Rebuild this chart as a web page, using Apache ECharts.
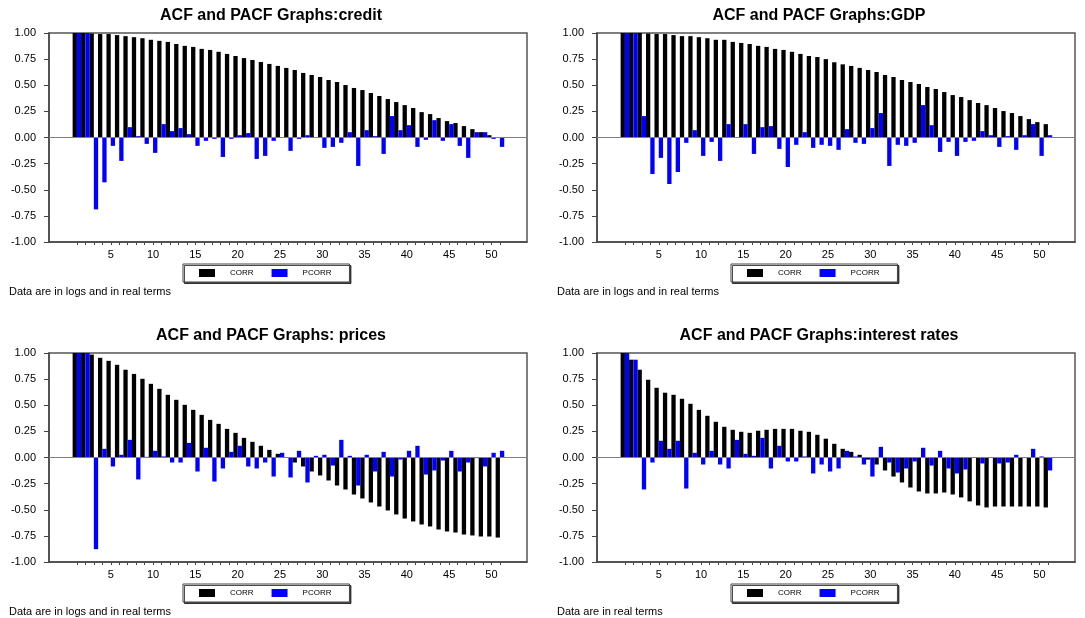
<!DOCTYPE html>
<html>
<head>
<meta charset="utf-8">
<script src="https://cdn.jsdelivr.net/npm/echarts@6/dist/echarts.min.js"></script>
<style>
  html, body { margin: 0; padding: 0; background: #fff; }
  #main { width: 1085px; height: 618px; }
</style>
</head>
<body>
<div id="main"></div>
<script>
// lags 1..51
const lags = [];
for (let i = 1; i <= 51; i++) lags.push(i);
const labelLags = [5, 10, 15, 20, 25, 30, 35, 40, 45, 50];

const creditCorr = [1.0, 1.0, 0.995, 0.99, 0.99, 0.98, 0.97, 0.96, 0.95, 0.935,
    0.925, 0.915, 0.895, 0.877, 0.867, 0.848, 0.838, 0.82, 0.80, 0.78,
    0.76, 0.742, 0.723, 0.704, 0.685, 0.666, 0.646, 0.618, 0.598, 0.579,
    0.55, 0.531, 0.502, 0.474, 0.454, 0.426, 0.397, 0.368, 0.339, 0.31,
    0.282, 0.243, 0.224, 0.186, 0.157, 0.138, 0.109, 0.08, 0.051, 0.022,
    -0.003];
const creditPcorr = [1.0, 1.0, -0.688, -0.429, -0.08, -0.224, 0.099, 0.013, -0.061, -0.147,
    0.128, 0.061, 0.09, 0.032, -0.08, -0.032, -0.013, -0.186, -0.013, 0.022,
    0.042, -0.205, -0.176, -0.032, -0.005, -0.128, -0.013, 0.022, 0.005, -0.099,
    -0.09, -0.051, 0.051, -0.272, 0.07, 0.013, -0.157, 0.205, 0.07, 0.118,
    -0.09, -0.022, 0.166, -0.032, 0.128, -0.08, -0.195, 0.051, 0.051, -0.013,
    -0.09];

const gdpCorr = [1.0, 1.0, 1.0, 0.995, 0.99, 0.99, 0.98, 0.97, 0.97, 0.96,
    0.95, 0.935, 0.935, 0.915, 0.905, 0.895, 0.877, 0.867, 0.848, 0.838,
    0.82, 0.80, 0.78, 0.77, 0.75, 0.72, 0.70, 0.685, 0.666, 0.646,
    0.627, 0.598, 0.579, 0.55, 0.531, 0.512, 0.483, 0.464, 0.435, 0.406,
    0.387, 0.358, 0.33, 0.31, 0.282, 0.253, 0.234, 0.205, 0.176, 0.147,
    0.128];
const gdpPcorr = [1.0, 1.0, 0.205, -0.349, -0.195, -0.445, -0.33, -0.051, 0.07, -0.176,
    -0.042, -0.224, 0.128, 0.005, 0.128, -0.157, 0.099, 0.109, -0.109, -0.282,
    -0.07, 0.051, -0.099, -0.07, -0.08, -0.118, 0.08, -0.051, -0.061, 0.09,
    0.234, -0.272, -0.07, -0.08, -0.051, 0.31, 0.118, -0.138, -0.042, -0.176,
    -0.042, -0.032, 0.061, 0.022, -0.09, 0.013, -0.118, 0.022, 0.128, -0.176,
    0.022];

const pricesCorr = [1.0, 1.0, 0.985, 0.954, 0.925, 0.887, 0.84, 0.80, 0.753, 0.705,
    0.657, 0.60, 0.552, 0.504, 0.456, 0.408, 0.36, 0.322, 0.274, 0.236,
    0.188, 0.15, 0.112, 0.073, 0.035, -0.005, -0.048, -0.086, -0.134, -0.172,
    -0.22, -0.268, -0.306, -0.354, -0.392, -0.43, -0.469, -0.507, -0.545, -0.584,
    -0.612, -0.641, -0.66, -0.689, -0.708, -0.718, -0.737, -0.746, -0.756, -0.756,
    -0.766];
const pricesPcorr = [1.0, 1.0, -0.877, 0.083, -0.086, 0.026, 0.169, -0.21, 0.006, 0.064,
    0.01, -0.048, -0.048, 0.14, -0.134, 0.093, -0.23, -0.105, 0.054, 0.112,
    -0.086, -0.105, -0.048, -0.182, 0.045, -0.191, 0.064, -0.239, 0.016, 0.026,
    -0.077, 0.169, 0.016, -0.268, 0.026, -0.134, 0.054, -0.182, -0.019, 0.064,
    0.112, -0.163, -0.124, -0.029, 0.064, -0.134, -0.048, -0.006, -0.086, 0.045,
    0.064];

const ratesCorr = [1.0, 0.936, 0.84, 0.744, 0.667, 0.62, 0.60, 0.562, 0.514, 0.456,
    0.399, 0.342, 0.294, 0.265, 0.246, 0.236, 0.256, 0.265, 0.274, 0.274,
    0.274, 0.256, 0.246, 0.217, 0.18, 0.131, 0.083, 0.054, 0.026, -0.02,
    -0.067, -0.124, -0.182, -0.239, -0.287, -0.325, -0.344, -0.344, -0.335, -0.354,
    -0.382, -0.42, -0.459, -0.478, -0.469, -0.469, -0.469, -0.469, -0.469, -0.469,
    -0.478];
const ratesPcorr = [1.0, 0.936, -0.306, -0.048, 0.16, 0.083, 0.16, -0.297, 0.045, -0.067,
    0.064, -0.067, -0.105, 0.169, 0.035, 0.016, 0.188, -0.105, 0.112, -0.038,
    -0.038, 0.01, -0.153, -0.067, -0.134, -0.105, 0.064, 0.01, -0.067, -0.182,
    0.102, -0.048, -0.144, -0.105, -0.038, 0.093, -0.077, 0.064, -0.105, -0.153,
    -0.115, -0.005, -0.057, -0.005, -0.057, -0.048, 0.026, -0.005, 0.083, 0.01,
    -0.124];

const titles = ['ACF and PACF Graphs:credit', 'ACF and PACF Graphs:GDP',
    'ACF and PACF Graphs: prices', 'ACF and PACF Graphs:interest rates'];
const notes = ['Data are in logs and in real terms', 'Data are in logs and in real terms',
    'Data are in logs and in real terms', 'Data are in real terms'];
const corrSets = [creditCorr, gdpCorr, pricesCorr, ratesCorr];
const pcorrSets = [creditPcorr, gdpPcorr, pricesPcorr, ratesPcorr];

const font = "'Liberation Sans', Arial, sans-serif";
// panel boxes [left, top]
const panels = [[49, 33], [597, 33], [49, 353], [597, 353]];
const plotW = 478, plotH = 209;

const option = {
    backgroundColor: '#fff',
    animation: false,
    textStyle: { fontFamily: font },
    title: [], legend: [], grid: [], xAxis: [], yAxis: [], series: []
};

panels.forEach((p, k) => {
    const left = p[0], top = p[1];
    option.title.push({
        text: titles[k], left: left + 222, top: top - 25, textAlign: 'center', padding: 0,
        textStyle: { fontSize: 16, fontWeight: 'bold', color: '#000', fontFamily: font }
    });
    option.title.push({
        text: notes[k], left: left - 40, top: top + 253, padding: 0,
        textStyle: { fontSize: 11, fontWeight: 'normal', color: '#000', fontFamily: font }
    });
    option.legend.push({
        data: ['CORR', 'PCORR'],
        left: left + 134, top: top + 231,
        orient: 'horizontal',
        icon: 'rect', itemWidth: 16, itemHeight: 8, itemGap: 18,
        padding: [5, 18, 5, 16],
        borderColor: '#444', borderWidth: 1,
        backgroundColor: '#fff',
        shadowColor: 'rgba(0,0,0,0.7)', shadowOffsetX: 1.5, shadowOffsetY: 1.5, shadowBlur: 0,
        selectedMode: false,
        textStyle: { fontSize: 8, color: '#000', fontFamily: font, padding: [0, 0, 0, 10] }
    });
    option.grid.push({
        left: left, top: top, width: plotW, height: plotH,
        show: true, borderColor: '#555', borderWidth: 1.5, backgroundColor: '#fff'
    });
    option.xAxis.push({
        type: 'value', gridIndex: k, min: -2.3, max: 54.2,
        splitLine: { show: false },
        axisLine: { onZero: false, lineStyle: { color: '#444', width: 1.5 } },
        axisTick: { show: true, length: 3, customValues: lags, lineStyle: { color: '#444' } },
        axisLabel: { customValues: labelLags, fontSize: 11, color: '#000', margin: 7, fontFamily: font }
    });
    option.yAxis.push({
        type: 'value', gridIndex: k, min: -1, max: 1, interval: 0.25,
        splitLine: { show: false },
        axisLine: { show: true, onZero: false, lineStyle: { color: '#444', width: 1.5 } },
        axisTick: { show: true, length: 5, lineStyle: { color: '#444' } },
        axisLabel: { fontSize: 11, color: '#000', margin: 13, fontFamily: font,
            formatter: v => v.toFixed(2) }
    });
    option.series.push({
        name: 'CORR', type: 'bar', xAxisIndex: k, yAxisIndex: k,
        barWidth: 4.3, barGap: '0%',
        itemStyle: { color: '#000' },
        data: lags.map((l, i) => [l, corrSets[k][i]]),
        markLine: {
            silent: true, symbol: 'none', label: { show: false },
            lineStyle: { color: '#808080', width: 1, type: 'solid' },
            data: [{ yAxis: 0 }]
        }
    });
    option.series.push({
        name: 'PCORR', type: 'bar', xAxisIndex: k, yAxisIndex: k,
        barWidth: 4.3, barGap: '0%',
        itemStyle: { color: '#0000ff' },
        data: lags.map((l, i) => [l, pcorrSets[k][i]])
    });
});

const chart = echarts.init(document.getElementById('main'), null, { renderer: 'canvas' });
chart.setOption(option);
</script>
</body>
</html>
